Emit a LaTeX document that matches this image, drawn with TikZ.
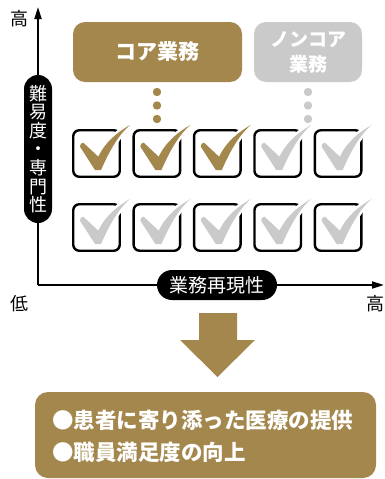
\documentclass[tikz,border=0pt]{standalone}
\usepackage{fontspec}
\newfontfamily\jp{Noto Sans CJK JP}
\usetikzlibrary{arrows.meta}
\definecolor{gold}{HTML}{A4874C}
\definecolor{lgray}{HTML}{C9CAC9}
\tikzset{
  axis/.style={line width=1.8pt, -{Triangle[length=12pt,width=7pt]}},
  cbox/.style={draw=black, line width=2.4pt, rounded corners=6pt, minimum size=46.5pt, inner sep=0pt},
  vpill/.style={fill=black, text=white, rounded corners=14pt, minimum width=28pt, minimum height=148pt, inner sep=0pt, align=center, font=\jp\fontsize{18}{18.6}\selectfont},
  hpill/.style={fill=black, text=white, rounded corners=15pt, minimum width=120pt, minimum height=30pt, inner sep=0pt, font=\jp\fontsize{19}{19}\selectfont},
  tag/.style={rounded corners=12pt, text=white, inner sep=0pt, align=center},
  lbl/.style={font=\jp\fontsize{18}{18}\selectfont, inner sep=0pt},
  btxt/.style={anchor=west, text=white, inner sep=0pt, font=\jp\bfseries\fontsize{21.5}{21.5}\selectfont},
  pics/chk/.style={code={
    \fill[#1, preaction={draw=white, line width=5pt, line join=round}]
      (-16.5,-6.8) -- (-1.5,16.5) -- (4.5,16.5)
      .. controls (11,2) and (20,-17) .. (33.5,-28.5)
      .. controls (22,-22) and (9,-12) .. (1.8,3.2)
      -- (-13.2,-10.8) .. controls (-15,-11) and (-17,-9) .. cycle;
  }}
}
\begin{document}
\begin{tikzpicture}[x=1pt,y=-1pt]
\useasboundingbox (0,0) rectangle (385,479);
% axes
\coordinate (O) at (38,285);
\coordinate (ytip) at (38,7);
\coordinate (xtip) at (384,285);
\draw[axis] (O) -- (ytip);
\draw[axis] (O) -- (xtip);
\node[vpill] (vlab) at (38,149) {難\\易\\度\\・\\専\\門\\性};
\node[hpill] (hlab) at (217,285) {業務再現性};
\node[lbl] (yhigh) at (19,19) {高};
\node[lbl] (low) at (19.5,303.5) {低};
\node[lbl] (xhigh) at (375.5,303.5) {高};
% category boxes
\node[tag, fill=gold, minimum width=169pt, minimum height=60pt, font=\jp\bfseries\fontsize{21}{21}\selectfont] (core) at (157.5,52) {コア業務};
\node[tag, fill=lgray, minimum width=108pt, minimum height=60pt, font=\jp\bfseries\fontsize{19}{25}\selectfont] (noncore) at (308,52) {ノンコア\\業務};
% dots
\foreach \yy in {92,105.5,119} {
  \fill[gold] (157,\yy) circle (4.2);
  \fill[lgray] (308,\yy) circle (4.2);
}
% check boxes
\foreach \i/\c in {1/gold,2/gold,3/gold,4/lgray,5/lgray} {
  \node[cbox] (a\i) at ({96.5+60.4*(\i-1)},153.5) {};
  \node[cbox] (b\i) at ({96.5+60.4*(\i-1)},227.5) {};
  \pic at (a\i) {chk=\c};
  \pic at (b\i) {chk=lgray};
}
% big arrow
\fill[gold] (199,313) -- (237,313) -- (237,340) -- (255,340) -- (217.5,377) -- (180,340) -- (199,340) -- cycle;
% result box
\node[tag, fill=gold, rounded corners=13pt, minimum width=341pt, minimum height=86pt] (res) at (205.5,435) {};
\node[btxt] (r1) at (52,420) {●患者に寄り添った医療の提供};
\node[btxt] (r2) at (52,452) {●職員満足度の向上};
\end{tikzpicture}
\end{document}
